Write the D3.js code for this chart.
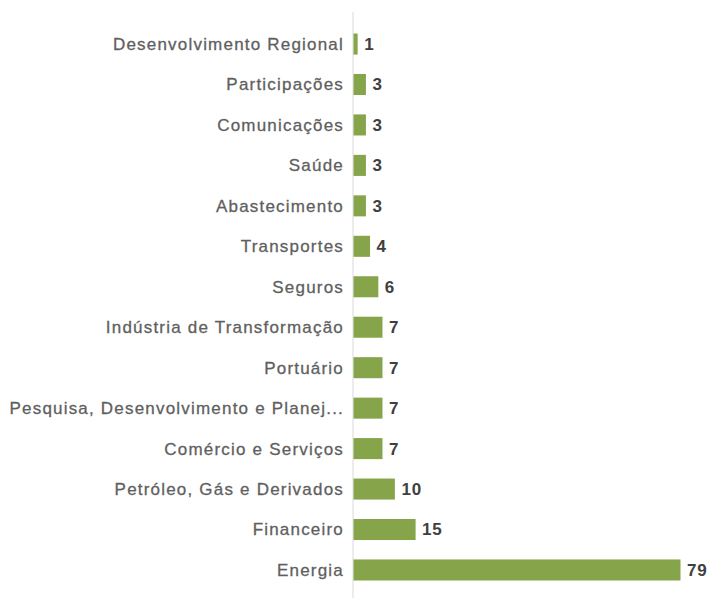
<!DOCTYPE html>
<html>
<head>
  <meta charset="UTF-8">
  <style>
  body { margin:0; background:#fff; }
  </style>
</head>
<body>
  <div id="chart"></div>
  <script src="https://d3js.org/d3.v7.min.js"></script>
  <script>
    var categories = ["Desenvolvimento Regional", "Participações", "Comunicações", "Saúde",
      "Abastecimento", "Transportes", "Seguros", "Indústria de Transformação", "Portuário",
      "Pesquisa, Desenvolvimento e Planej...", "Comércio e Serviços",
      "Petróleo, Gás e Derivados", "Financeiro", "Energia"];
    var values = [1, 3, 3, 3, 3, 4, 6, 7, 7, 7, 7, 10, 15, 79];

    var svg = d3.select("#chart").append("svg")
      .attr("width", 710)
      .attr("height", 599);

    var x = d3.scaleLinear()
      .domain([0, 79])
      .range([353, 680]);

    var y = d3.scaleBand()
      .domain(categories)
      .range([23.8, 590.2])
      .paddingInner(0.48)
      .paddingOuter(0.24);

    // axis line
    svg.append("line")
      .attr("x1", x(0)).attr("x2", x(0))
      .attr("y1", 12).attr("y2", 598)
      .attr("stroke", "#d9d9d9")
      .attr("stroke-width", 1);

    svg.selectAll("rect.bar")
      .data(values)
      .enter().append("rect")
      .attr("class", "bar")
      .attr("x", x(0) + 0.5)
      .attr("y", function(d, i) { return y(categories[i]); })
      .attr("width", function(d) { return x(d) - x(0); })
      .attr("height", y.bandwidth())
      .attr("fill", "#86a44a");

    svg.selectAll("text.cat")
      .data(categories)
      .enter().append("text")
      .attr("class", "cat")
      .attr("x", x(0) - 9)
      .attr("y", function(d) { return y(d) + y.bandwidth() / 2; })
      .attr("dy", "0.35em")
      .attr("text-anchor", "end")
      .attr("font-family", "Liberation Sans, Arial, sans-serif")
      .attr("font-size", 17)
      .attr("letter-spacing", 1.2)
      .attr("fill", "#5f5f5f")
      .attr("stroke", "#5f5f5f")
      .attr("stroke-width", 0.3)
      .text(function(d) { return d; });

    svg.selectAll("text.val")
      .data(values)
      .enter().append("text")
      .attr("class", "val")
      .attr("x", function(d) { return x(d) + 7; })
      .attr("y", function(d, i) { return y(categories[i]) + y.bandwidth() / 2; })
      .attr("dy", "0.35em")
      .attr("font-family", "Liberation Sans, Arial, sans-serif")
      .attr("font-size", 17)
      .attr("letter-spacing", 0.8)
      .attr("font-weight", "bold")
      .attr("fill", "#404040")
      .text(function(d) { return d; });
  </script>
</body>
</html>
